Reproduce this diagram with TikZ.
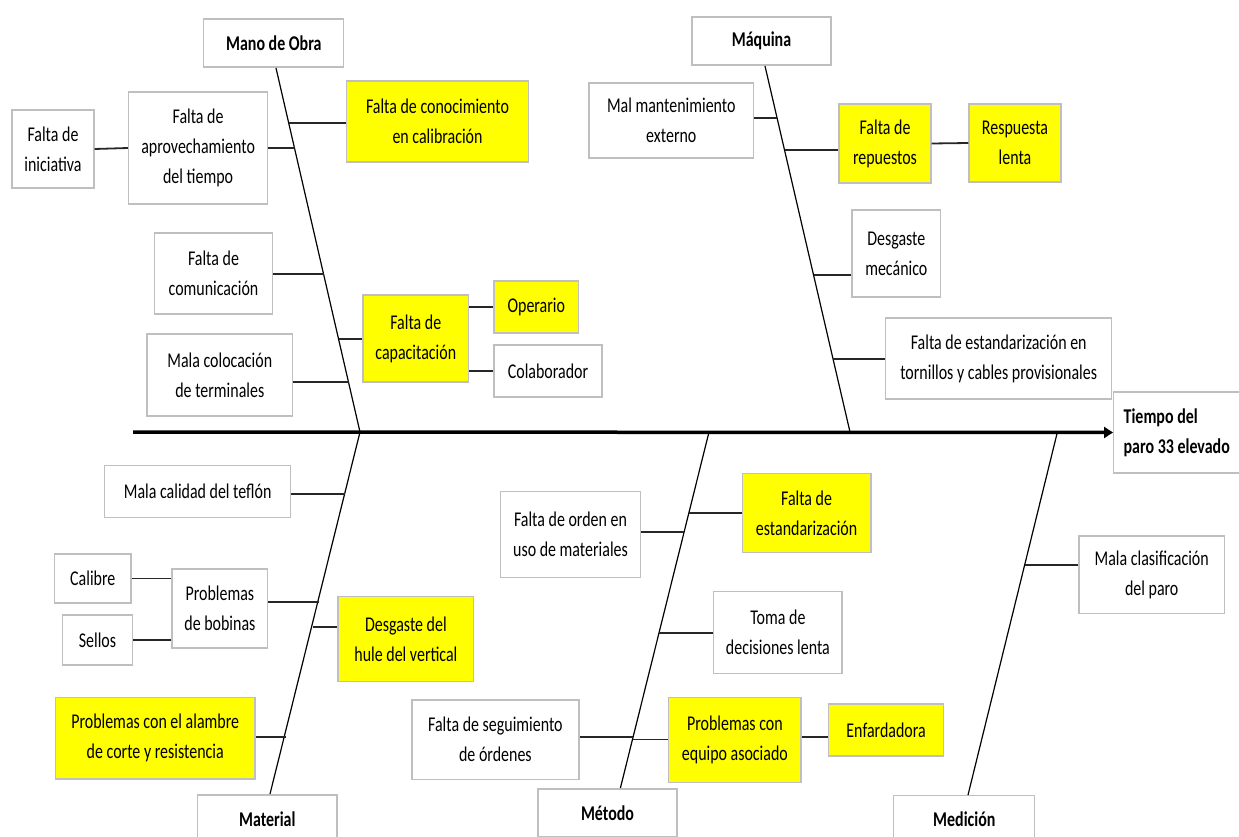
\documentclass[tikz,border=0pt]{standalone}
\usepackage{fontspec}
\setmainfont{Carlito}[FakeStretch=0.76]
\usetikzlibrary{arrows.meta}
\definecolor{boxgray}{HTML}{BFBFBF}
\definecolor{hl}{HTML}{FFFF00}
\begin{document}
\begin{tikzpicture}[x=1pt,y=-1pt,
  box/.style={draw=boxgray,line width=1.3pt,fill=white,align=center,inner sep=0pt,
    font=\fontsize{21}{30}\selectfont},
  ybox/.style={box,fill=hl},
  cat/.style={box,font=\fontsize{21}{30}\selectfont\bfseries},
  sz/.style 2 args={minimum width=#1,minimum height=#2},
  bone/.style={line width=1.2pt,black},
  conn/.style={line width=1.8pt,black!85},
  spine/.style={line width=3.5pt,black,-{Triangle[length=9pt,width=11pt]}}]
\useasboundingbox (0,0) rectangle (1239,837);
% category boxes
\node[cat,sz={140}{48}] (mo) at (273.8,43) {Mano de Obra};
\node[cat,sz={139}{48}] (mq) at (761.5,41) {Máquina};
\node[cat,sz={139.3}{48}] (ma) at (267.3,819) {Material};
\node[cat,sz={139}{48}] (me) at (607.5,813) {Método};
\node[cat,sz={141}{48}] (md) at (964.3,819.7) {Medición};
\node[cat,anchor=west,minimum height=81,text width=120,inner xsep=10pt,align=flush left] (eff) at (1113,432.5) {Tiempo del\\paro 33 elevado};
% Mano de Obra causes
\node[box,sz={82}{78}] (inic) at (53,149) {Falta de\\iniciativa};
\node[box,sz={139}{112}] (aprov) at (198.1,148) {Falta de\\aprovechamiento\\del tiempo};
\node[ybox,sz={181.5}{81}] (conoc) at (437.5,121.5) {Falta de conocimiento\\en calibración};
\node[box,sz={118.6}{81}] (comun) at (213.5,273.5) {Falta de\\comunicación};
\node[box,sz={145.6}{82}] (coloc) at (219.8,375) {Mala colocación\\de terminales};
\node[ybox,sz={105.6}{87}] (capac) at (415.8,338.5) {Falta de\\capacitación};
\node[ybox,sz={84.5}{52}] (oper) at (536.3,307) {Operario};
\node[box,sz={108}{52}] (colab) at (548,371) {Colaborador};
% Maquina causes
\node[box,sz={164.6}{75}] (malm) at (671.3,120.5) {Mal mantenimiento\\externo};
\node[ybox,sz={92}{79}] (rep) at (885,143.5) {Falta de\\repuestos};
\node[ybox,sz={92}{78}] (resp) at (1015,143) {Respuesta\\lenta};
\node[box,sz={88.6}{87}] (desg) at (896.3,253.5) {Desgaste\\mecánico};
\node[box,sz={226}{81}] (torn) at (998.7,358.5) {Falta de estandarización en\\tornillos y cables provisionales};
% Material causes
\node[box,sz={185.8}{52}] (tefl) at (197.7,491.7) {Mala calidad del teflón};
\node[box,sz={76.3}{49}] (cal) at (92.8,578.5) {Calibre};
\node[box,sz={70}{50}] (sell) at (97.5,640) {Sellos};
\node[box,sz={95.7}{79}] (bob) at (219.9,608.5) {Problemas\\de bobinas};
\node[ybox,sz={135.7}{85}] (hule) at (405.9,639.2) {Desgaste del\\hule del vertical};
\node[ybox,sz={199.6}{81.3}] (alam) at (155.2,738.3) {Problemas con el alambre\\de corte y resistencia};
% Metodo causes
\node[box,sz={140.4}{85.6}] (orden) at (570.5,534.5) {Falta de orden en\\uso de materiales};
\node[ybox,sz={128.7}{79.4}] (est) at (806.6,513) {Falta de\\estandarización};
\node[box,sz={128.2}{81.6}] (toma) at (777.9,632.5) {Toma de\\decisiones lenta};
\node[box,sz={166.9}{79.3}] (seg) at (495.4,739.6) {Falta de seguimiento\\de órdenes};
\node[ybox,sz={132.2}{85}] (eq) at (734.9,740.2) {Problemas con\\equipo asociado};
\node[ybox,sz={115.2}{52}] (enf) at (886.1,730) {Enfardadora};
% Medicion causes
\node[box,sz={145.4}{77.3}] (clas) at (1151.7,574.7) {Mala clasificación\\del paro};
% spine and bones
\coordinate (spL) at (133,432);
\coordinate (moT) at (276,68);
\coordinate (moJ) at (360,432);
\coordinate (mqT) at (765,66);
\coordinate (mqJ) at (850,432);
\coordinate (maB) at (270,794);
\coordinate (meJ) at (709,432);
\coordinate (meB) at (620.4,788);
\coordinate (mdJ) at (1057.4,432);
\coordinate (mdB) at (968,795);
\draw[spine] (spL) -- (eff.west);
\draw[bone] (moT) -- (moJ);
\draw[bone] (mqT) -- (mqJ);
\draw[bone] (moJ) -- (maB);
\draw[bone] (meJ) -- (meB);
\draw[bone] (mdJ) -- (mdB);
% junctions
\coordinate (jAprov) at (294.5,148);
\coordinate (jConoc) at (288.7,123);
\coordinate (jComun) at (323.5,274);
\coordinate (jCapac) at (338.5,339);
\coordinate (jColoc) at (348.5,382);
\coordinate (jMal) at (777.1,118);
\coordinate (jRep) at (784.5,150);
\coordinate (jDesg) at (813.5,275);
\coordinate (jTorn) at (833,359);
\coordinate (jTefl) at (344.9,494);
\coordinate (jBob) at (318.6,602);
\coordinate (jHule) at (312.5,627);
\coordinate (jAlam) at (285.6,737);
\coordinate (jOrden) at (684.1,532);
\coordinate (jEst) at (688.8,513);
\coordinate (jToma) at (659,633);
\coordinate (jSeg) at (633.1,737);
\coordinate (jEq) at (632.5,739.5);
\coordinate (jClas) at (1024.6,565);
\coordinate (jOper) at (oper.west);
\coordinate (jColab) at (colab.west);
\coordinate (jEnf) at ([yshift=-7pt]enf.west);
% connectors
\draw[conn] (inic.east) -- (aprov.west);
\draw[conn] (jAprov) -- (jAprov -| aprov.east);
\draw[conn] (jConoc) -- (jConoc -| conoc.west);
\draw[conn] (jComun) -- (jComun -| comun.east);
\draw[conn] (jCapac) -- (jCapac -| capac.west);
\draw[conn] (jColoc) -- (jColoc -| coloc.east);
\draw[conn] (jOper -| capac.east) -- (jOper);
\draw[conn] (jColab -| capac.east) -- (jColab);
\draw[conn] (jMal) -- (jMal -| malm.east);
\draw[conn] (jRep) -- (jRep -| rep.west);
\draw[conn] (rep.east) -- (resp.west);
\draw[conn] (jDesg) -- (jDesg -| desg.west);
\draw[conn] (jTorn) -- (jTorn -| torn.west);
\draw[conn] (jTefl) -- (jTefl -| tefl.east);
\draw[conn] (jBob) -- (jBob -| bob.east);
\draw[conn] (cal.east) -- (cal.east -| bob.west);
\draw[conn] (sell.east) -- (sell.east -| bob.west);
\draw[conn] (jHule) -- (jHule -| hule.west);
\draw[conn] (jAlam) -- (jAlam -| alam.east);
\draw[conn] (jOrden) -- (jOrden -| orden.east);
\draw[conn] (jEst) -- (jEst -| est.west);
\draw[conn] (jToma) -- (jToma -| toma.west);
\draw[conn] (jSeg) -- (jSeg -| seg.east);
\draw[conn] (jEq) -- (jEq -| eq.west);
\draw[conn] (jEnf -| eq.east) -- (jEnf);
\draw[conn] (jClas) -- (jClas -| clas.west);
\end{tikzpicture}
\end{document}
